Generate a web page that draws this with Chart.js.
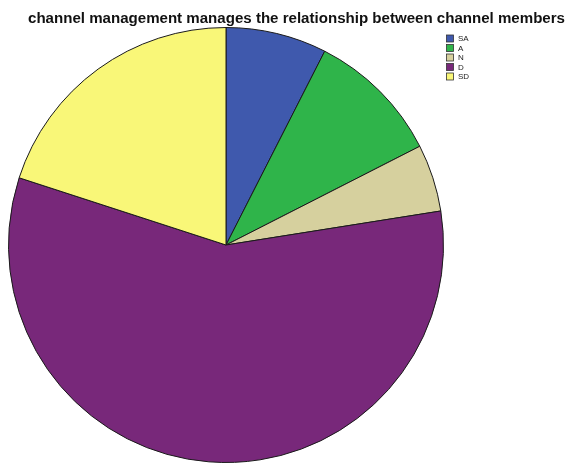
<!DOCTYPE html>
<html>
<head>
<meta charset="utf-8">
<script src="https://cdn.jsdelivr.net/npm/chart.js@4"></script>
<style>
  html, body { margin: 0; padding: 0; background: #fff; }
  #wrap { width: 567px; height: 463px; }
</style>
</head>
<body>
<div id="wrap"><canvas id="c" width="567" height="463"></canvas></div>
<script>
const titleText = 'channel management manages the relationship between channel members';
const categories = ['SA', 'A', 'N', 'D', 'SD'];
const counts = [3, 4, 2, 23, 8];
const sliceColors = ['#3f59ad', '#2fb44a', '#d6d09e', '#78287a', '#f9f778'];

// Title and the small legend box in the top-right corner
const decor = {
  id: 'decor',
  afterDraw(chart) {
    const ctx = chart.ctx;
    ctx.save();
    ctx.fillStyle = '#111';
    ctx.font = 'bold 14px "Liberation Sans", Arial, sans-serif';
    ctx.textAlign = 'center';
    ctx.textBaseline = 'alphabetic';
    const w = ctx.measureText(titleText).width;
    ctx.translate(296.5, 23);
    ctx.scale(537 / w, 1);
    ctx.fillText(titleText, 0, 0);
    ctx.setTransform(1, 0, 0, 1, 0, 0);

    ctx.font = '8px "Liberation Sans", Arial, sans-serif';
    ctx.textAlign = 'left';
    ctx.textBaseline = 'middle';
    categories.forEach((lab, i) => {
      const y = 35 + i * 9.5;
      ctx.fillStyle = sliceColors[i];
      ctx.fillRect(446.5, y, 7, 7);
      ctx.strokeStyle = '#333';
      ctx.lineWidth = 0.8;
      ctx.strokeRect(446.5, y, 7, 7);
      ctx.fillStyle = '#222';
      ctx.fillText(lab, 458, y + 4);
    });
    ctx.restore();
  }
};

new Chart(document.getElementById('c'), {
  type: 'pie',
  data: {
    labels: categories,
    datasets: [{
      data: counts,
      backgroundColor: sliceColors,
      borderColor: '#1a1a1a',
      borderWidth: 1
    }]
  },
  options: {
    responsive: false,
    animation: false,
    layout: { padding: { left: 8, top: 27, right: 123, bottom: 0 } },
    plugins: {
      legend: { display: false },
      title: { display: false },
      tooltip: { enabled: false }
    }
  },
  plugins: [decor]
});
</script>
</body>
</html>
